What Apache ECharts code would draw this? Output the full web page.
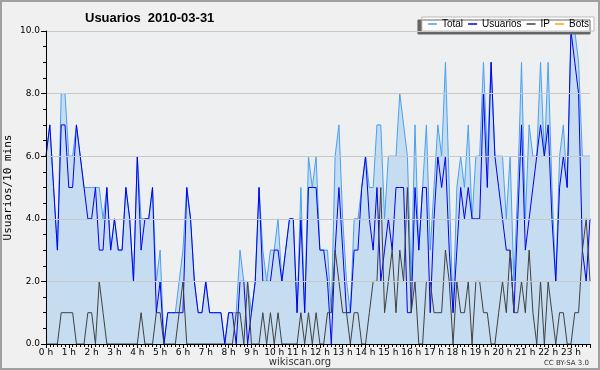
<!DOCTYPE html>
<html><head><meta charset="utf-8">
<script src="https://cdn.jsdelivr.net/npm/echarts@6/dist/echarts.min.js"></script>
<style>html,body{margin:0;padding:0;background:#f0f0f0}#c{width:600px;height:370px}</style>
</head><body><div id="c"></div>
<script>
const hourLabels = ['0 h','1 h','2 h','3 h','4 h','5 h','6 h','7 h','8 h','9 h','10 h','11 h','12 h','13 h','14 h','15 h','16 h','17 h','18 h','19 h','20 h','21 h','22 h','23 h'];
const seriesNames = ['Total','Usuarios','IP','Bots'];
const total = [6,7,5,3,8,8,6,6,7,6, 5,5,5,5,5,4,5,3,4,3, 3,5,4,2,6,4,4,4,5,2, 3,0,1,1,1,2,3,5,4,2,
  1,1,2,1,1,1,1,0,1,1, 1,3,2,2,1,2,5,3,2,3, 3,4,2,3,4,4,1,5,1,6, 5,6,3,3,3,1,6,7,4,2,
  1,4,4,5,6,5,5,7,7,4, 6,6,6,8,7,6,2,7,3,5, 7,3,5,7,6,9,5,1,5,6, 5,7,4,6,6,9,6,9,6,6,
  6,4,6,2,5,9,4,7,6,6, 9,6,9,5,2,6,7,5,10,10, 9,6,6,6];
const usuarios = [6,7,5,3,7,7,5,5,7,6, 5,4,4,5,3,3,5,3,4,3, 3,5,4,2,6,3,4,4,5,1, 2,0,1,1,1,1,1,5,4,2,
  1,1,2,1,1,1,1,0,1,1, 0,2,2,0,1,2,5,2,2,2, 3,3,2,3,4,4,1,4,1,5, 5,5,3,3,2,0,3,5,3,1,
  1,3,3,5,6,4,3,5,2,3, 4,3,5,5,5,1,1,5,3,5, 5,1,4,6,5,6,3,1,3,5, 4,5,4,4,4,8,5,9,6,5,
  4,3,3,1,4,7,3,4,5,6, 7,6,7,4,2,5,6,5,10,9, 8,3,2,4];
const ip = [0,0,0,0,1,1,1,1,0,0, 0,1,1,0,2,1,0,0,0,0, 0,0,0,0,0,1,0,0,0,1, 1,0,0,0,0,1,2,0,0,0,
  0,0,0,0,0,0,0,0,0,0, 1,1,0,2,0,0,0,1,0,1, 0,1,0,0,0,0,0,1,0,1, 0,1,0,0,1,1,3,2,1,1,
  0,1,1,0,0,1,2,2,5,1, 2,3,1,3,2,5,1,2,0,0, 2,2,1,1,1,3,2,0,2,1, 1,2,0,2,2,1,1,0,0,1,
  2,1,3,1,1,2,1,3,1,0, 2,0,2,1,0,1,1,0,0,1, 1,3,4,2];
const bots = [0,0,0,0,0,0,0,0,0,0, 0,0,0,0,0,0,0,0,0,0, 0,0,0,0,0,0,0,0,0,0, 0,0,0,0,0,0,0,0,0,0,
  0,0,0,0,0,0,0,0,0,0, 0,0,0,0,0,0,0,0,0,0, 0,0,0,0,0,0,0,0,0,0, 0,0,0,0,0,0,0,0,0,0,
  0,0,0,0,0,0,0,0,0,0, 0,0,0,0,0,0,0,0,0,0, 0,0,0,0,0,0,0,0,0,0, 0,0,0,0,0,0,0,0,0,0,
  0,0,0,0,0,0,0,0,0,0, 0,0,0,0,0,0,0,0,0,0, 0,0,0,0];

const toXY = a => a.map((v, i) => [i, v]);
const chart = echarts.init(document.getElementById('c'), null, {renderer: 'canvas'});
const lineSeries = (name, data, color, extra) => Object.assign({
  name, type: 'line', data: toXY(data), symbol: 'none', showSymbol: false,
  lineStyle: {color, width: 1}, itemStyle: {color}, emphasis: {disabled: true}
}, extra || {});

chart.setOption({
  animation: false,
  backgroundColor: '#f0f0f0',
  title: {
    text: 'Usuarios  2010-03-31', left: 80, top: 7,
    textStyle: {fontFamily: 'Liberation Sans', fontWeight: 'bold', fontSize: 13, color: '#000'}
  },
  legend: {
    data: seriesNames, right: 6, top: 17, orient: 'horizontal',
    backgroundColor: '#fff', borderColor: '#bbb', borderWidth: 1,
    padding: [2, 5, 2, 6], itemGap: 5, itemWidth: 9, itemHeight: 1.5, icon: 'rect',
    textStyle: {fontSize: 10, fontFamily: 'Liberation Sans', color: '#000'},
    shadowColor: '#666', shadowOffsetX: -4, shadowOffsetY: 3, shadowBlur: 0
  },
  grid: {left: 46, right: 10, top: 31, bottom: 26, show: true, backgroundColor: '#eeeff1', borderWidth: 0,
    containLabel: false, outerBoundsMode: 'none'},
  xAxis: {
    type: 'value', min: 0, max: 143, interval: 6, z: 10,
    axisLine: {lineStyle: {color: '#000'}},
    axisTick: {length: 4, lineStyle: {color: '#000'}},
    minorTick: {show: true, splitNumber: 6, length: 3, lineStyle: {color: '#000'}},
    axisLabel: {
      formatter: v => (v % 6 === 0 ? hourLabels[v / 6] : ''),
      fontSize: 9, margin: 4, color: '#000', fontFamily: 'DejaVu Sans'
    },
    splitLine: {show: false}
  },
  yAxis: {
    type: 'value', min: 0, max: 10, interval: 2, z: 10,
    name: 'Usuarios/10 mins', nameLocation: 'middle', nameGap: 32, nameMoveOverlap: false,
    nameTextStyle: {fontFamily: 'DejaVu Sans Mono', fontSize: 11, color: '#000'},
    axisLine: {show: true, lineStyle: {color: '#000'}},
    axisTick: {show: true, length: 5, lineStyle: {color: '#000'}},
    minorTick: {show: true, splitNumber: 4, length: 3, lineStyle: {color: '#000'}},
    axisLabel: {formatter: v => v.toFixed(1), fontSize: 9, margin: 6, color: '#000', fontFamily: 'DejaVu Sans'},
    splitLine: {lineStyle: {color: '#c8c8c8'}}
  },
  series: [
    lineSeries('Total', total, '#48a0f0', {areaStyle: {color: '#c6dcf0', opacity: 1}}),
    lineSeries('Usuarios', usuarios, '#0000ee'),
    lineSeries('IP', ip, '#404040'),
    lineSeries('Bots', bots, '#ffa500', {z: 1})
  ],
  graphic: [
    {type: 'text', x: 300, y: 357, style: {text: 'wikiscan.org', font: '10px "DejaVu Sans"', fill: '#333', align: 'center'}},
    {type: 'text', x: 589, y: 360, style: {text: 'CC BY-SA 3.0', font: '7px "DejaVu Sans"', fill: '#333', align: 'right'}},
    {type: 'rect', shape: {x: 1, y: 1, width: 598, height: 368}, style: {fill: null, stroke: '#a0a0a0', lineWidth: 2}}
  ]
});
</script></body></html>
